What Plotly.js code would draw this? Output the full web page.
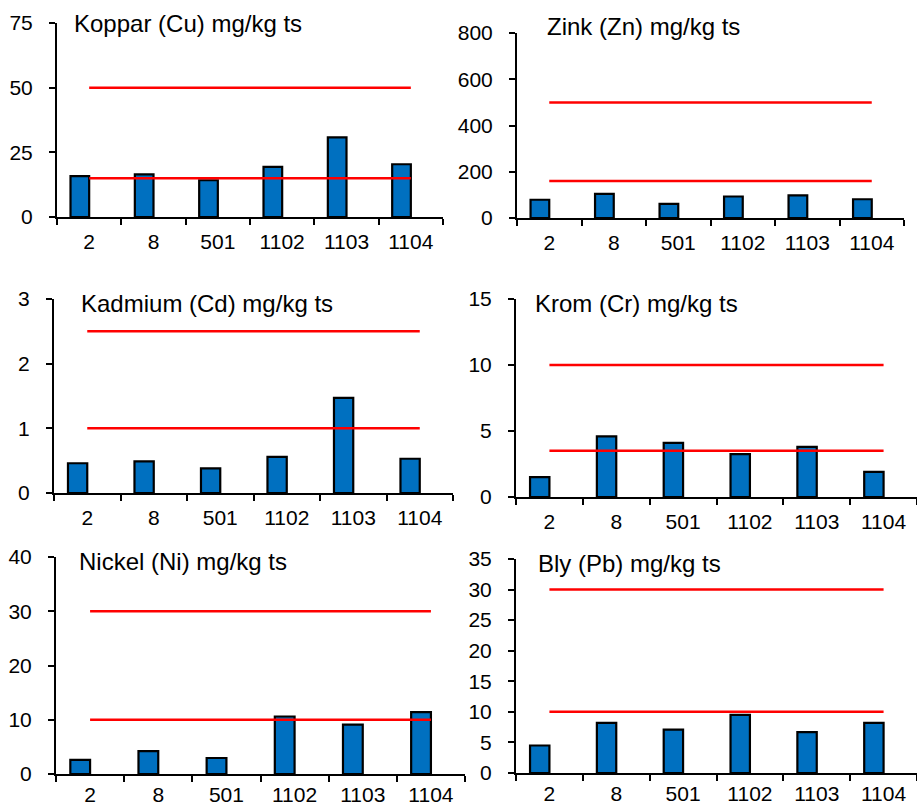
<!DOCTYPE html>
<html>
<head>
<meta charset="utf-8">
<script src="https://cdn.plot.ly/plotly-3.0.1.min.js"></script>
<style>
html,body{margin:0;padding:0;background:#fff;}
#chart{width:917px;height:807px;}
</style>
</head>
<body>
<div id="chart"></div>
<script>
// ---- data ----
const stations = ["2", "8", "501", "1102", "1103", "1104"];

const cuValues = [15.8, 16.5, 14.2, 19.4, 30.8, 20.4];
const znValues = [79, 104, 61, 93, 98, 81];
const cdValues = [0.46, 0.49, 0.38, 0.56, 1.47, 0.53];
const crValues = [1.5, 4.6, 4.1, 3.25, 3.8, 1.9];
const niValues = [2.6, 4.2, 2.95, 10.6, 9.1, 11.4];
const pbValues = [4.5, 8.2, 7.1, 9.5, 6.7, 8.2];

const cuLimits = [15, 50];
const znLimits = [160, 500];
const cdLimits = [1, 2.5];
const crLimits = [3.5, 10];
const niLimits = [10, 30];
const pbLimits = [10, 30];

const titles = ["Koppar (Cu) mg/kg ts", "Zink (Zn) mg/kg ts", "Kadmium (Cd) mg/kg ts",
                "Krom (Cr) mg/kg ts", "Nickel (Ni) mg/kg ts", "Bly (Pb) mg/kg ts"];

// ---- layout helpers (pixel geometry) ----
const W = 917, H = 807;
const panels = [
  {vals: cuValues, lim: cuLimits, ymax: 75,  dtick: 25,  x0: 57,  x1: 443, y0: 23,  y1: 217, tx: 72,  ty: 23,  xs: 5},
  {vals: znValues, lim: znLimits, ymax: 800, dtick: 200, x0: 517, x1: 904, y0: 33,  y1: 218, tx: 545, ty: 27,  xs: 5},
  {vals: cdValues, lim: cdLimits, ymax: 3,   dtick: 1,   x0: 54,  x1: 453, y0: 299, y1: 493, tx: 79,  ty: 303, xs: 5},
  {vals: crValues, lim: crLimits, ymax: 15,  dtick: 5,   x0: 516, x1: 917, y0: 299, y1: 497, tx: 533, ty: 303, xs: 5},
  {vals: niValues, lim: niLimits, ymax: 40,  dtick: 10,  x0: 56,  x1: 465, y0: 557, y1: 774, tx: 77,  ty: 561, xs: 1},
  {vals: pbValues, lim: pbLimits, ymax: 35,  dtick: 5,   x0: 516, x1: 917, y0: 559, y1: 773, tx: 536, ty: 563, xs: 1}
];

const FONT = "Liberation Sans, Arial, sans-serif";
const TICK = 21;
const traces = [];
const layout = {
  width: W, height: H,
  margin: {l: 0, r: 0, t: 0, b: 0},
  paper_bgcolor: "#ffffff",
  plot_bgcolor: "rgba(0,0,0,0)",
  showlegend: false,
  font: {family: FONT, color: "#000000", size: TICK},
  annotations: []
};

panels.forEach((p, i) => {
  const n = i + 1;
  const xa = n === 1 ? "x" : "x" + n;
  const ya = n === 1 ? "y" : "y" + n;
  traces.push({
    type: "bar", x: stations, y: p.vals, xaxis: xa, yaxis: ya,
    width: 0.29, offset: -0.29,
    marker: {color: "#0070C0", line: {color: "#000000", width: 2.2}},
    hoverinfo: "x+y"
  });
  p.lim.forEach(l => {
    traces.push({
      type: "scatter", mode: "lines", x: stations, y: stations.map(() => l),
      xaxis: xa, yaxis: ya,
      line: {color: "#FF0000", width: 2.5}, hoverinfo: "y"
    });
  });
  const xk = n === 1 ? "xaxis" : "xaxis" + n;
  const yk = n === 1 ? "yaxis" : "yaxis" + n;
  layout[xk] = {
    domain: [p.x0 / W, p.x1 / W], anchor: ya,
    type: "category", range: [-0.5, 5.5],
    showline: true, linecolor: "#000000", linewidth: 2,
    ticks: "outside", tickson: "boundaries", ticklen: 6, tickwidth: 2, tickcolor: "#000000",
    showgrid: false, zeroline: false, fixedrange: true,
    tickfont: {family: FONT, size: TICK, color: "#000000"},
    ticklabelstandoff: p.xs
  };
  layout[yk] = {
    domain: [1 - p.y1 / H, 1 - p.y0 / H], anchor: xa,
    range: [0, p.ymax], dtick: p.dtick, tick0: 0,
    showline: true, linecolor: "#000000", linewidth: 2,
    ticks: "outside", ticklen: 6, tickwidth: 2, tickcolor: "#000000",
    showgrid: false, zeroline: false, fixedrange: true,
    tickfont: {family: FONT, size: TICK, color: "#000000"},
    ticklabelstandoff: 12
  };
  layout.annotations.push({
    text: titles[i], xref: "paper", yref: "paper",
    x: p.tx / W, y: 1 - p.ty / H, xanchor: "left", yanchor: "middle",
    showarrow: false, font: {family: FONT, size: 24, color: "#000000"}
  });
});

Plotly.newPlot("chart", traces, layout, {displayModeBar: false, staticPlot: true});
</script>
</body>
</html>
